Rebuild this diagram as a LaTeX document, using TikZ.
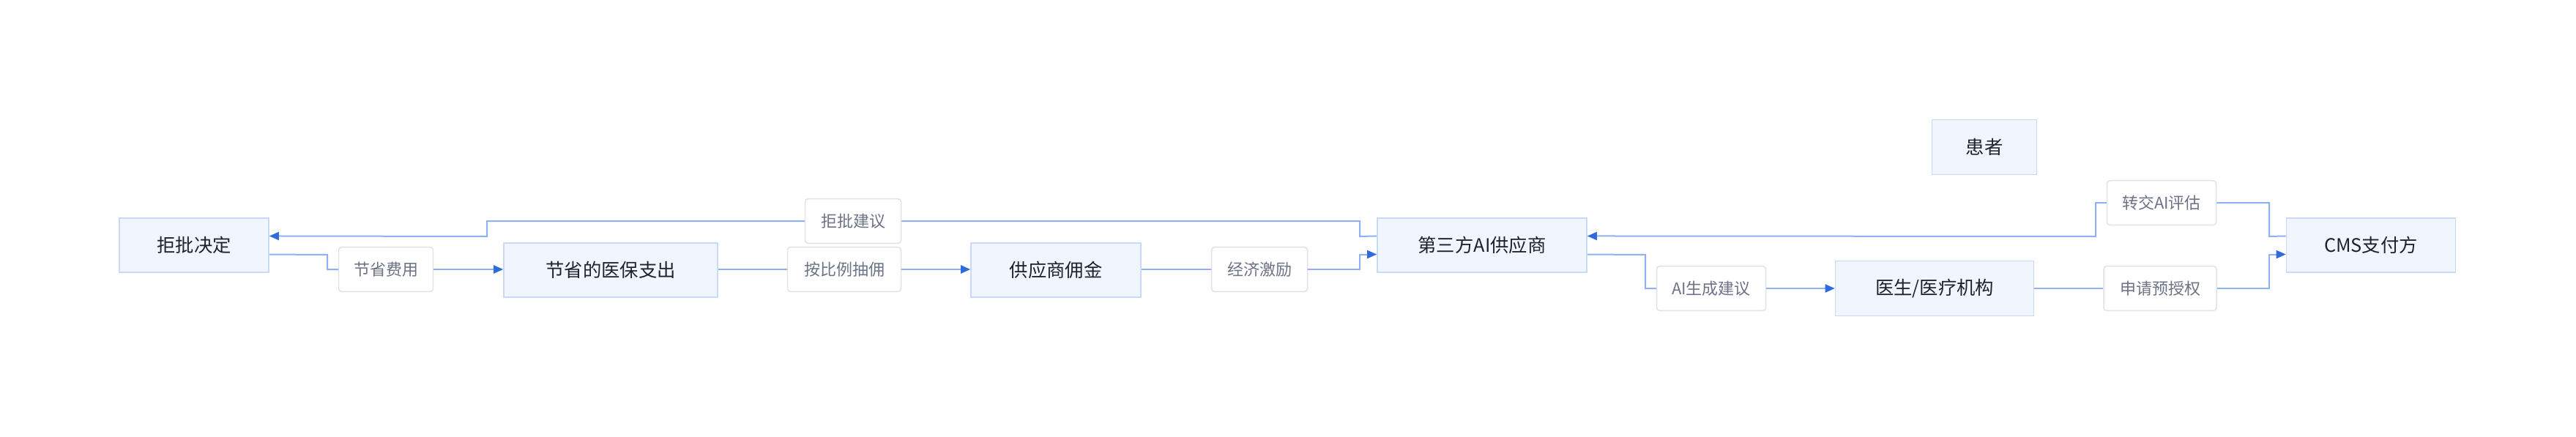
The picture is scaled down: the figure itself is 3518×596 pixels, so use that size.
\documentclass[tikz,border=0pt]{standalone}
\usepackage{fontspec}
\setmainfont{Noto Sans CJK SC}
\usetikzlibrary{arrows.meta}
\definecolor{boxfill}{HTML}{F0F5FE}
\definecolor{boxline}{HTML}{C8DAF7}
\definecolor{txtdark}{HTML}{1F2329}
\definecolor{txtgray}{HTML}{6B7386}
\definecolor{lblline}{HTML}{E2E2E2}
\definecolor{flowline}{HTML}{8DB1F3}
\definecolor{tipblue}{HTML}{2E6BDD}
\tikzset{
  entity/.style={draw=boxline, fill=boxfill, line width=1.2pt, inner sep=0pt,
    text=txtdark, font=\fontsize{19}{23}\selectfont, minimum height=55.5pt},
  tag/.style={draw=lblline, fill=white, line width=1.1pt, rounded corners=3pt,
    inner sep=0pt, text=txtgray, font=\fontsize{16.5}{20}\selectfont, minimum height=45.5pt},
  flow/.style={draw=flowline, line width=1.5pt},
  flowarrow/.style={flow, -{Triangle[length=9.75pt,width=8.25pt,color=tipblue]}},
}
\begin{document}
\begin{tikzpicture}[x=0.75pt,y=-0.75pt]
\useasboundingbox[fill=white] (0,0) rectangle (3518,596);

% main entities
\node[entity, minimum width=153pt]    (deny)    at (265,335)  {拒批决定};
\node[entity, minimum width=219pt]    (saved)   at (834,369)  {节省的医保支出};
\node[entity, minimum width=174pt]    (comm)    at (1442,369) {供应商佣金};
\node[entity, minimum width=214.5pt]  (ai)      at (2024,335) {第三方AI供应商};
\node[entity, minimum width=107.25pt, minimum height=56.25pt] (patient) at (2710,201) {患者};
\node[entity, minimum width=203.25pt, minimum height=56.25pt] (doctor)  at (2642,394) {医生/医疗机构};
\node[entity, minimum width=173.25pt] (cms)     at (3238,335) {CMS支付方};

% edge labels
\node[tag, minimum width=96.75pt]  (l1) at (527,368)  {节省费用};
\node[tag, minimum width=116.25pt] (l2) at (1153,368) {按比例抽佣};
\node[tag, minimum width=98.25pt]  (l3) at (1720,368) {经济激励};
\node[tag, minimum width=98.25pt]  (l4) at (1165,302) {拒批建议};
\node[tag, minimum width=111.75pt] (l5) at (2337,394) {AI生成建议};
\node[tag, minimum width=115.5pt]  (l6) at (2950,394) {申请预授权};
\node[tag, minimum width=111.75pt] (l7) at (2952,277) {转交AI评估};

% 拒批决定 -> 节省的医保支出
\draw[flow] ([yshift=-9.4pt]deny.east) -- (447,348) |- (l1.west);
\draw[flowarrow] (l1.east) -- (saved.west |- l1.east);
% 节省的医保支出 -> 供应商佣金
\draw[flow] (saved.east |- l2.west) -- (l2.west);
\draw[flowarrow] (l2.east) -- (comm.west |- l2.east);
% 供应商佣金 -> 第三方AI供应商
\draw[flow] (comm.east |- l3.west) -- (l3.west);
\draw[flowarrow] (l3.east) -- (1857,368) |- ([yshift=-9.4pt]ai.west);
% 第三方AI供应商 -> 拒批决定
\draw[flow] ([yshift=9.4pt]ai.west) -- (1857,323) |- (l4.east);
\draw[flowarrow] (l4.west) -| (665,323) -- ([yshift=9.4pt]deny.east);
% 第三方AI供应商 -> 医生/医疗机构
\draw[flow] ([yshift=-9.4pt]ai.east) -- (2247,348) |- (l5.west);
\draw[flowarrow] (l5.east) -- (doctor.west |- l5.east);
% 医生/医疗机构 -> CMS支付方
\draw[flow] (doctor.east |- l6.west) -- (l6.west);
\draw[flowarrow] (l6.east) -- (3099,394) |- ([yshift=-9.4pt]cms.west);
% CMS支付方 -> 第三方AI供应商
\draw[flow] ([yshift=9.4pt]cms.west) -- (3099,323) |- (l7.east);
\draw[flowarrow] (l7.west) -| (2862,323) -- ([yshift=9.4pt]ai.east);
\end{tikzpicture}
\end{document}
